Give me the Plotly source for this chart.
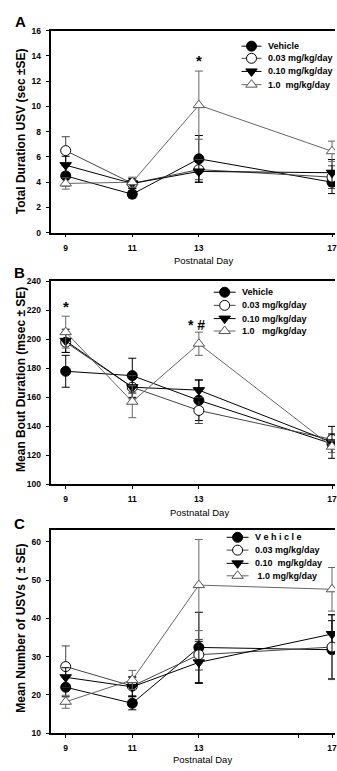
import plotly.graph_objects as go

# ---------------- data ----------------
days = [9, 11, 13, 17]
groups = ["Vehicle", "0.03 mg/kg/day", "0.10 mg/kg/day", "1.0 mg/kg/day"]

# Panel A: Total Duration USV (sec)
veh_a = [4.5, 3.05, 5.85, 4.0]
veh_a_se = [0.8, 0.3, 1.85, 0.9]
c003_a = [6.5, 3.9, 5.0, 4.4]
c003_a_se = [1.1, 0.35, 0.8, 0.9]
c010_a = [5.35, 3.9, 4.85, 4.75]
c010_a_se = [0.7, 0.4, 0.85, 1.05]
c10_a = [3.9, 4.0, 10.1, 6.45]
c10_a_se = [0.45, 0.4, 2.7, 0.8]

# Panel B: Mean Bout Duration (msec)
veh_b = [178, 175, 158, 128]
veh_b_se = [11, 12, 14, 6]
c003_b = [198, 167, 151, 131]
c003_b_se = [7, 8, 9, 4]
c010_b = [199, 167, 165, 129]
c010_b_se = [8, 7, 7, 11]
c10_b = [205, 157, 197, 126]
c10_b_se = [11, 11, 8, 4]

# Panel C: Mean Number of USVs
veh_c = [22.0, 17.8, 32.4, 31.8]
veh_c_se = [2.5, 1.7, 9.2, 7.6]
c003_c = [27.4, 22.3, 30.5, 32.5]
c003_c_se = [5.4, 2.5, 4.0, 8.5]
c010_c = [24.6, 22.1, 28.5, 35.9]
c010_c_se = [2.5, 2.5, 5.5, 5.0]
c10_c = [18.2, 23.9, 48.7, 47.6]
c10_c_se = [1.7, 2.5, 11.9, 5.7]

legend_a = ["Vehicle", "0.03 mg/kg/day", "0.10 mg/kg/day", "1.0\u00a0\u00a0mg/kg/day"]
legend_b = ["Vehicle", "0.03 mg/kg/day", "0.10 mg/kg/day", "1.0\u00a0\u00a0\u00a0mg/kg/day"]
legend_c = ["V e h i c l e", "0.03 mg/kg/day", "0.10\u00a0\u00a0mg/kg/day", "\u00a01.0 mg/kg/day"]

# ---------------- styles ----------------
W, H = 337, 771
FONT = "Liberation Sans, Arial, sans-serif"
styles = [
    dict(symbol="circle", fill="black", edge="black", line="black"),
    dict(symbol="circle", fill="white", edge="black", line="#444444"),
    dict(symbol="triangle-down", fill="black", edge="black", line="black"),
    dict(symbol="triangle-up", fill="white", edge="#555555", line="#666666"),
]
MSIZE = 10

fig = go.Figure()

panels = [
    ("x", "y", [veh_a, c003_a, c010_a, c10_a], [veh_a_se, c003_a_se, c010_a_se, c10_a_se]),
    ("x2", "y2", [veh_b, c003_b, c010_b, c10_b], [veh_b_se, c003_b_se, c010_b_se, c10_b_se]),
    ("x3", "y3", [veh_c, c003_c, c010_c, c10_c], [veh_c_se, c003_c_se, c010_c_se, c10_c_se]),
]

for xa, ya, vals, ses in panels:
    for g, v, s, st in zip(groups, vals, ses, styles):
        fig.add_trace(go.Scatter(
            x=days, y=v, xaxis=xa, yaxis=ya, name=g, showlegend=False,
            mode="lines+markers",
            line=dict(color=st["line"], width=1),
            marker=dict(symbol=st["symbol"], size=MSIZE, color=st["fill"],
                        line=dict(color=st["edge"], width=1)),
            error_y=dict(type="data", array=s, visible=True, color=st["line"],
                         thickness=1, width=4),
        ))

# ---------------- manual legends (pixel overlay axis) ----------------
leg_specs = [
    (legend_a, 243, 263, 268, [41.7, 54.0, 67.3, 80.7]),
    (legend_b, 215, 237, 241, [291.0, 304.3, 317.7, 330.3]),
    (legend_c, 228, 250, 255, [539.3, 552.3, 565.7, 578.3]),
]
annotations = []
for labels, x0, x1, xt, rows in leg_specs:
    for lab, r, st in zip(labels, rows, styles):
        fig.add_trace(go.Scatter(
            x=[x0, (x0 + x1) / 2, x1], y=[r, r, r], xaxis="x4", yaxis="y4",
            showlegend=False, hoverinfo="skip", mode="lines+markers",
            line=dict(color=st["line"], width=1),
            marker=dict(symbol=st["symbol"], size=MSIZE, color=st["fill"],
                        opacity=[0, 1, 0], line=dict(color=st["edge"], width=1)),
        ))
        annotations.append(dict(
            text=lab, x=xt / W, y=1 - r / H, xref="paper", yref="paper",
            xanchor="left", yanchor="middle", showarrow=False,
            font=dict(family=FONT, size=9, color="black", weight="bold")))

# ---------------- axes ----------------
def px_dom(top, bottom):
    return [1 - bottom / H, 1 - top / H]

xdom = [51.7 / W, 1.0]
xrange_ = [8.57, 17.09]
tickfont = dict(family=FONT, size=8.5, color="black", weight="bold")

def xaxis(anchor, tickvals, ticktext):
    return dict(domain=xdom, range=xrange_, anchor=anchor, tickvals=tickvals,
                ticktext=ticktext, ticks="outside", ticklen=3, tickwidth=1,
                tickcolor="black", showline=True, linecolor="black", linewidth=1.5,
                mirror=True, showgrid=False, zeroline=False, tickfont=tickfont,
                ticklabelstandoff=3, ticklabeloverflow="allow", fixedrange=True)

def yaxis(anchor, dom, rng, dtick):
    return dict(domain=dom, range=rng, anchor=anchor, dtick=dtick, tick0=0,
                ticks="outside", ticklen=4, tickwidth=1, tickcolor="black",
                showline=True, linecolor="black", linewidth=1.5, showgrid=False,
                zeroline=False, tickfont=tickfont, ticklabelstandoff=3,
                fixedrange=True)

fig.update_layout(
    width=W, height=H, margin=dict(l=0, r=0, t=0, b=0),
    paper_bgcolor="white", plot_bgcolor="rgba(0,0,0,0)",
    font=dict(family=FONT, color="black"),
    xaxis=xaxis("y", days, [str(d) for d in days]),
    yaxis=yaxis("x", px_dom(26, 230.7), [0, 16], 2),
    xaxis2=xaxis("y2", days, [str(d) for d in days]),
    yaxis2=yaxis("x2", px_dom(280, 485.7), [100, 240], 20),
    xaxis3=xaxis("y3", [9, 11, 13, 16, 17], ["9", "11", "13", "", "17"]),
    yaxis3=yaxis("x3", px_dom(532.3, 737.7), [10, 63], 10),
    xaxis4=dict(domain=[0, 1], range=[0, W], anchor="y4", visible=False, fixedrange=True),
    yaxis4=dict(domain=[0, 1], range=[H, 0], anchor="x4", visible=False, fixedrange=True),
    showlegend=False,
)

# ---------------- text ----------------
bold = lambda s: dict(family=FONT, size=s, color="black", weight="bold")
reg = lambda s: dict(family=FONT, size=s, color="black")

def pa(text, x, y, font, angle=0):
    annotations.append(dict(text=text, x=x / W, y=1 - y / H, xref="paper", yref="paper",
                            xanchor="center", yanchor="middle", showarrow=False,
                            font=font, textangle=angle))

pa("A", 21, 17, bold(15))
pa("B", 20, 271.5, bold(15))
pa("C", 19.5, 525, bold(15))
pa("Total Duration USV (sec \u00b1SE)", 21, 128, bold(12), -90)
pa("Mean Bout Duration (msec \u00b1 SE)", 21, 379, bold(12), -90)
pa("Mean Number of USVs ( \u00b1 SE)", 21, 631, bold(12), -90)
pa("Postnatal Day", 204.5, 259, reg(9.5))
pa("Postnatal Day", 200.7, 514, reg(9.5))
pa("Postnatal Day", 204, 764, reg(9.5))

# significance marks
annotations.append(dict(text="*", x=13, y=13.6, xref="x", yref="y", showarrow=False,
                        font=bold(15), xanchor="center", yanchor="middle"))
annotations.append(dict(text="*", x=9, y=222.5, xref="x2", yref="y2", showarrow=False,
                        font=bold(15), xanchor="center", yanchor="middle"))
annotations.append(dict(text="*\u00a0#", x=13, y=210, xref="x2", yref="y2", showarrow=False,
                        font=bold(14), xanchor="center", yanchor="middle", xshift=-2))

fig.update_layout(annotations=annotations)
fig.write_html("out.html")
